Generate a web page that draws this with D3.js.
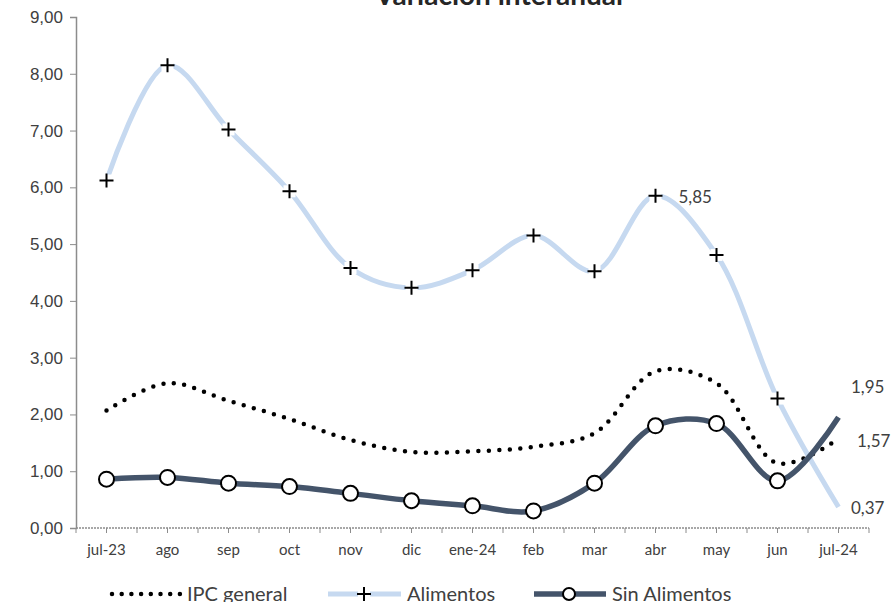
<!DOCTYPE html>
<html>
<head>
<meta charset="utf-8">
<script src="https://cdn.jsdelivr.net/npm/d3@7"></script>
<style>
  body { margin: 0; background: #fff; overflow: hidden; }
  svg { font-family: Lato, "Open Sans", sans-serif; }
</style>
</head>
<body>
<svg id="chart" width="891" height="602"></svg>
<script>
const categories = ["jul-23", "ago", "sep", "oct", "nov", "dic", "ene-24", "feb", "mar", "abr", "may", "jun", "jul-24"];
const ipcGeneral = [2.07, 2.55, 2.24, 1.92, 1.55, 1.34, 1.35, 1.43, 1.67, 2.76, 2.55, 1.14, 1.57];
const alimentos = [6.12, 8.15, 7.02, 5.93, 4.58, 4.23, 4.54, 5.15, 4.52, 5.85, 4.81, 2.28, 0.37];
const sinAlimentos = [0.86, 0.89, 0.79, 0.73, 0.61, 0.48, 0.39, 0.30, 0.79, 1.80, 1.84, 0.83, 1.95];
const yTicks = [0, 1, 2, 3, 4, 5, 6, 7, 8, 9];

const fmt = v => d3.format(".2f")(v).replace(".", ",");

const svg = d3.select("#chart");
const mLeft = 76, mRight = 869, mTop = 17, mBottom = 528;

const x = d3.scaleBand().domain(categories).range([mLeft, mRight]);
const y = d3.scaleLinear().domain([0, 9]).range([mBottom, mTop]);
const cx = c => x(c) + x.bandwidth() / 2;

// title (mostly cut off at top)
svg.append("text")
    .attr("x", 499).attr("y", 5)
    .attr("text-anchor", "middle")
    .attr("font-size", 28).attr("font-weight", "bold")
    .attr("fill", "#262626")
    .text("Variación interanual");

// y axis
const yAxis = svg.append("g")
    .attr("transform", `translate(${mLeft},0)`)
    .call(d3.axisLeft(y).tickValues(yTicks).tickFormat(fmt).tickSize(6).tickPadding(7));
yAxis.select(".domain").attr("stroke", "#8c8c8c").attr("stroke-width", 1.5);
yAxis.selectAll(".tick line").attr("stroke", "#8c8c8c");
yAxis.selectAll(".tick text").attr("font-size", 17).attr("fill", "#404040");

// x axis: ticks at centers and band edges
const xAxis = svg.append("g").attr("transform", `translate(0,${mBottom})`);
const tickPos = [];
categories.forEach(c => { tickPos.push(x(c)); tickPos.push(cx(c)); });
tickPos.push(mRight);
xAxis.append("line")
    .attr("x1", mLeft).attr("x2", mRight)
    .attr("stroke", "#8c8c8c").attr("stroke-width", 1.5)
    .attr("stroke-dasharray", "2 1");
xAxis.selectAll("line.tk").data(tickPos).join("line")
    .attr("class", "tk")
    .attr("x1", d => d).attr("x2", d => d)
    .attr("y1", 0).attr("y2", 5)
    .attr("stroke", "#8c8c8c");
xAxis.selectAll("text").data(categories).join("text")
    .attr("x", d => cx(d)).attr("y", 22).attr("dy", "0.35em")
    .attr("text-anchor", "middle")
    .attr("font-size", 15).attr("fill", "#404040")
    .text(d => d);

const line = d3.line()
    .x((d, i) => cx(categories[i]))
    .y(d => y(d))
    .curve(d3.curveCatmullRom.alpha(0.5));

// Alimentos
svg.append("path").datum(alimentos)
    .attr("d", line).attr("fill", "none")
    .attr("stroke", "#c6d9f0").attr("stroke-width", 5);
const plus = svg.append("g").selectAll("g").data(alimentos.slice(0, 12)).join("g")
    .attr("transform", (d, i) => `translate(${cx(categories[i])},${y(d)})`);
plus.append("rect").attr("x", -6).attr("y", -6).attr("width", 12).attr("height", 12).attr("fill", "#fff");
plus.append("path").attr("d", "M-7,0H7M0,-7V7").attr("stroke", "#000").attr("stroke-width", 2);

// IPC general
svg.append("path").datum(ipcGeneral)
    .attr("d", line).attr("fill", "none")
    .attr("stroke", "#000").attr("stroke-width", 4.5)
    .attr("stroke-linecap", "round")
    .attr("stroke-dasharray", "0 10.5");

// Sin Alimentos
svg.append("path").datum(sinAlimentos)
    .attr("d", line).attr("fill", "none")
    .attr("stroke", "#44546a").attr("stroke-width", 5.5);
svg.append("g").selectAll("circle").data(sinAlimentos.slice(0, 12)).join("circle")
    .attr("cx", (d, i) => cx(categories[i]))
    .attr("cy", d => y(d))
    .attr("r", 7.5)
    .attr("fill", "#fff").attr("stroke", "#000").attr("stroke-width", 2);

// data labels
const lbl = (txt, lx, ly) => svg.append("text")
    .attr("x", lx).attr("y", ly).attr("dy", "0.35em")
    .attr("font-size", 17).attr("fill", "#404040").text(txt);
lbl(fmt(alimentos[9]), cx("abr") + 23, y(alimentos[9]) + 1);
lbl(fmt(sinAlimentos[12]), 851, y(sinAlimentos[12]) - 30);
lbl(fmt(ipcGeneral[12]), 857, y(ipcGeneral[12]) + 2);
lbl(fmt(alimentos[12]), 851, y(alimentos[12]) + 1);

// legend (partly cut off at bottom edge)
const leg = svg.append("g").attr("transform", "translate(0,594)");
leg.append("line").attr("x1", 112).attr("x2", 180)
    .attr("stroke", "#000").attr("stroke-width", 4.5)
    .attr("stroke-linecap", "round").attr("stroke-dasharray", "0 9.7");
leg.append("text").attr("x", 187).attr("dy", "0.35em").attr("font-size", 20).attr("fill", "#404040").text("IPC general");
leg.append("line").attr("x1", 328).attr("x2", 401).attr("stroke", "#c6d9f0").attr("stroke-width", 5);
leg.append("rect").attr("x", 358).attr("y", -6).attr("width", 12).attr("height", 12).attr("fill", "#fff");
leg.append("path").attr("d", "M357,0H371M364,-7V7").attr("stroke", "#000").attr("stroke-width", 2);
leg.append("text").attr("x", 407).attr("dy", "0.35em").attr("font-size", 20).attr("fill", "#404040").text("Alimentos");
leg.append("line").attr("x1", 534).attr("x2", 606).attr("stroke", "#44546a").attr("stroke-width", 5.5);
leg.append("circle").attr("cx", 569).attr("cy", 0).attr("r", 6)
    .attr("fill", "#fff").attr("stroke", "#000").attr("stroke-width", 2);
leg.append("text").attr("x", 612).attr("dy", "0.35em").attr("font-size", 20).attr("fill", "#404040").text("Sin Alimentos");
</script>
</body>
</html>
